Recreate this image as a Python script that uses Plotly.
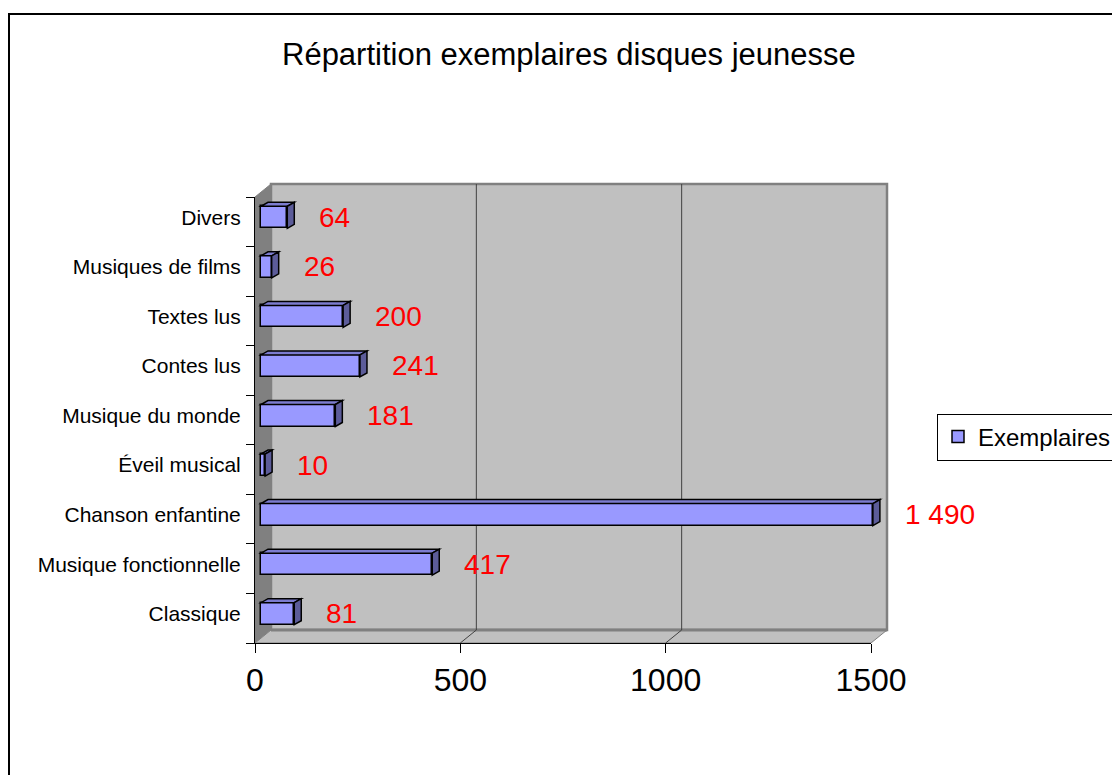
import plotly.graph_objects as go

# ---- data ----
categories = ["Classique", "Musique fonctionnelle", "Chanson enfantine", "Éveil musical",
              "Musique du monde", "Contes lus", "Textes lus", "Musiques de films", "Divers"]
exemplaires = [81, 417, 1490, 10, 181, 241, 200, 26, 64]
x_ticks = [0, 500, 1000, 1500]
series_name = "Exemplaires"
title_text = "Répartition exemplaires disques jeunesse"

# ---- geometry / style ----
W, H = 1112, 775
L, R, T, B = 255, 871, 197, 643          # front plane of the plot (pixels)
XMAX = 1500
n = len(categories)
XPU = (R - L) / XMAX                      # px per value unit
YPU = (B - T) / n                         # px per category
D_X, D_Y = 16 / XPU, 13 / YPU             # full depth offset (data units)
BX, BY = 6 / XPU, 4.5 / YPU               # bar front-face offset
BDX, BDY = 7 / XPU, 4 / YPU               # bar depth
BAR_W = 22 / YPU
BOX_R, BOX_T = R + 24, T - 18             # extent of the 3-D box subplot (pixels)
FONT = "Liberation Sans, Arial, sans-serif"
FACE, TOP, SIDE = "#9999FF", "#7C7CCF", "#5C5C99"
WALL, SIDEWALL, EDGE = "#C0C0C0", "#808080", "#808080"

def fx(px):
    return px / W

def fy(py):
    return 1 - py / H

ypos = [i + BY for i in range(n)]
y0, y1 = -0.5, n - 0.5

fig = go.Figure()
fig.add_trace(go.Bar(
    y=ypos, x=exemplaires, base=BX, orientation="h", width=BAR_W,
    marker=dict(color=FACE, line=dict(color="black", width=1.5)),
    name=series_name, showlegend=True, hoverinfo="skip", xaxis="x", yaxis="y",
    cliponaxis=False,
))
# invisible trace to activate the front-axis subplot
fig.add_trace(go.Scatter(x=[0], y=[0], xaxis="x2", yaxis="y2", mode="markers",
                         marker=dict(opacity=0), showlegend=False, hoverinfo="skip"))

shapes = []
# outer frame
shapes.append(dict(type="rect", xref="paper", yref="paper",
                   x0=fx(9), x1=fx(1125), y0=fy(790), y1=fy(14),
                   line=dict(color="black", width=2), fillcolor="rgba(0,0,0,0)", layer="below"))
# back wall
shapes.append(dict(type="rect", xref="x", yref="y", x0=D_X, x1=XMAX + D_X, y0=y0 + D_Y, y1=y1 + D_Y,
                   fillcolor=WALL, line=dict(color=EDGE, width=2.5), layer="below"))
# left side wall
shapes.append(dict(type="path", xref="x", yref="y",
                   path=f"M0,{y0} L{D_X},{y0 + D_Y} L{D_X},{y1 + D_Y} L0,{y1} Z",
                   fillcolor=SIDEWALL, line=dict(color=EDGE, width=1), layer="below"))
# floor
shapes.append(dict(type="path", xref="x", yref="y",
                   path=f"M0,{y0} L{D_X},{y0 + D_Y} L{XMAX + D_X},{y0 + D_Y} L{XMAX},{y0} Z",
                   fillcolor=WALL, line=dict(color=EDGE, width=1), layer="below"))
shapes.append(dict(type="line", xref="x", yref="y", x0=D_X, x1=XMAX + D_X, y0=y0 + D_Y, y1=y0 + D_Y,
                   line=dict(color=EDGE, width=3), layer="below"))
# gridlines on back wall and floor
for v in x_ticks[1:-1]:
    shapes.append(dict(type="line", xref="x", yref="y", x0=v + D_X, x1=v + D_X,
                       y0=y0 + D_Y, y1=y1 + D_Y, line=dict(color="#404040", width=1), layer="below"))
    shapes.append(dict(type="line", xref="x", yref="y", x0=v, x1=v + D_X,
                       y0=y0, y1=y0 + D_Y, line=dict(color="#404040", width=1), layer="below"))
# bar top and side faces
for yc, v in zip(ypos, exemplaires):
    yb, yt = yc - BAR_W / 2, yc + BAR_W / 2
    xl, xr = BX, BX + v
    shapes.append(dict(type="path", xref="x", yref="y",
                       path=f"M{xl},{yt} L{xr},{yt} L{xr + BDX},{yt + BDY} L{xl + BDX},{yt + BDY} Z",
                       fillcolor=TOP, line=dict(color="black", width=1.5)))
    shapes.append(dict(type="path", xref="x", yref="y",
                       path=f"M{xr},{yb} L{xr + BDX},{yb + BDY} L{xr + BDX},{yt + BDY} L{xr},{yt} Z",
                       fillcolor=SIDE, line=dict(color="black", width=1.5)))

annotations = []
for yc, v in zip(ypos, exemplaires):
    annotations.append(dict(x=BX + v, y=yc, xref="x", yref="y", text=f"{v:,}".replace(",", " "),
                            showarrow=False, xanchor="left", yanchor="middle", xshift=30,
                            font=dict(family=FONT, size=28, color="#FF0000")))
annotations.append(dict(x=fx(569), y=fy(54), xref="paper", yref="paper", text=title_text,
                        showarrow=False, xanchor="center", yanchor="middle",
                        font=dict(family=FONT, size=31, color="black")))

fig.update_layout(
    template="none",
    width=W, height=H,
    margin=dict(l=0, r=0, t=0, b=0, autoexpand=False),
    paper_bgcolor="white", plot_bgcolor="rgba(0,0,0,0)",
    shapes=shapes, annotations=annotations,
    showlegend=True,
    legend=dict(x=fx(937), y=fy(437), xanchor="left", yanchor="middle",
                bgcolor="white", bordercolor="black", borderwidth=1,
                font=dict(family=FONT, size=24, color="black")),
    # 3-D box axes (invisible, same scale as the front axes)
    xaxis=dict(domain=[fx(L), fx(BOX_R)], range=[0, (BOX_R - L) / XPU], visible=False,
               anchor="y", automargin=False),
    yaxis=dict(domain=[fy(B), fy(BOX_T)], range=[y0, y0 + (B - BOX_T) / YPU], visible=False,
               anchor="x", automargin=False),
    # front axes
    xaxis2=dict(domain=[fx(L), fx(R)], range=[0, XMAX], tickvals=x_ticks,
                ticktext=[str(t) for t in x_ticks], anchor="y2",
                showgrid=False, zeroline=False, showline=True, linecolor="black", linewidth=1,
                ticks="outside", ticklen=9, tickcolor="black",
                tickfont=dict(family=FONT, size=32, color="black"), automargin=False),
    yaxis2=dict(domain=[fy(B), fy(T)], range=[y0, y1], tickvals=ypos, ticktext=categories,
                anchor="x2",
                showgrid=False, zeroline=False, showline=True, linecolor="black", linewidth=1,
                ticks="outside", ticklen=9, tickcolor="rgba(0,0,0,0)",
                minor=dict(tick0=-0.5, dtick=1, ticks="outside", ticklen=8, tickcolor="black"),
                tickfont=dict(family=FONT, size=21, color="black"), automargin=False),
    bargap=0,
)

fig.write_html("out.html", config={"displayModeBar": False},
               post_script="document.body.style.margin='0';document.body.style.overflow='hidden';")
